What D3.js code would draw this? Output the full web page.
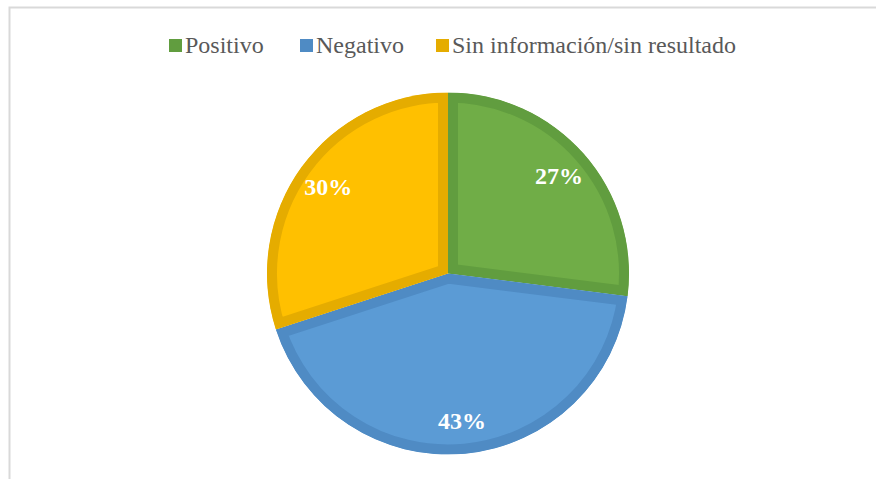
<!DOCTYPE html>
<html lang="es">
<head>
    <meta charset="utf-8">
    <title>Resultado</title>
    <style>
        body { margin: 0; background: #fff; }
        text { font-family: "Liberation Serif", "Times New Roman", serif; }
    </style>
    <script src="https://cdn.jsdelivr.net/npm/d3@7"></script>
</head>
<body>
    <svg></svg>
    <script>
        // chart data
        var categories = ["Positivo", "Negativo", "Sin información/sin resultado"];
        var values = [27, 43, 30];
        var fills = ["#70ad47", "#5b9bd5", "#ffc000"];
        var edges = ["#619d3f", "#4f8bc4", "#e5ac00"];

        var width = 876, height = 479;
        var cx = 448, cy = 273.5, radius = 181;

        var svg = d3.select("svg")
            .attr("width", width)
            .attr("height", height);

        // chart frame (only top and left visible)
        svg.append("rect")
            .attr("x", 9.5)
            .attr("y", 7.5)
            .attr("width", width + 20)
            .attr("height", height + 20)
            .attr("fill", "none")
            .attr("stroke", "#d9d9d9")
            .attr("stroke-width", 2);

        var data = categories.map(function(c, i) {
            return {name: c, value: values[i], fill: fills[i], edge: edges[i]};
        });

        var pie = d3.pie()
            .sort(null)
            .value(function(d) { return d.value; });
        var arc = d3.arc().innerRadius(0).outerRadius(radius);
        var labelArc = d3.arc().innerRadius(148).outerRadius(148);

        var g = svg.append("g")
            .attr("transform", "translate(" + cx + "," + cy + ")");

        var arcs = pie(data);

        // clip each slice to itself so the dark edge sits inside it
        var defs = svg.append("defs");
        defs.selectAll("clipPath")
            .data(arcs)
            .enter().append("clipPath")
            .attr("id", function(d, i) { return "clip" + i; })
            .append("path")
            .attr("d", arc);

        g.selectAll(".slice")
            .data(arcs)
            .enter().append("path")
            .attr("class", "slice")
            .attr("d", arc)
            .attr("fill", function(d) { return d.data.fill; })
            .attr("stroke", function(d) { return d.data.edge; })
            .attr("stroke-width", 20)
            .attr("stroke-linejoin", "miter")
            .attr("clip-path", function(d, i) { return "url(#clip" + i + ")"; });

        // percentage labels
        g.selectAll(".lbl")
            .data(arcs)
            .enter().append("text")
            .attr("class", "lbl")
            .attr("transform", function(d) { return "translate(" + labelArc.centroid(d) + ")"; })
            .attr("text-anchor", "middle")
            .attr("dy", "0.35em")
            .attr("fill", "#fff")
            .attr("font-weight", "bold")
            .attr("font-size", 24)
            .text(function(d) { return d.data.value + "%"; });

        // legend
        var legendX = [169, 300, 436];
        var legend = svg.append("g");
        var items = legend.selectAll(".item")
            .data(data)
            .enter().append("g")
            .attr("class", "item")
            .attr("transform", function(d, i) { return "translate(" + legendX[i] + ",0)"; });
        items.append("rect")
            .attr("x", 0)
            .attr("y", 39)
            .attr("width", 13)
            .attr("height", 13)
            .attr("fill", function(d) { return d.edge; });
        items.append("text")
            .attr("x", 16)
            .attr("y", 53)
            .attr("font-size", 24)
            .attr("fill", "#595959")
            .text(function(d) { return d.name; });
    </script>
</body>
</html>
